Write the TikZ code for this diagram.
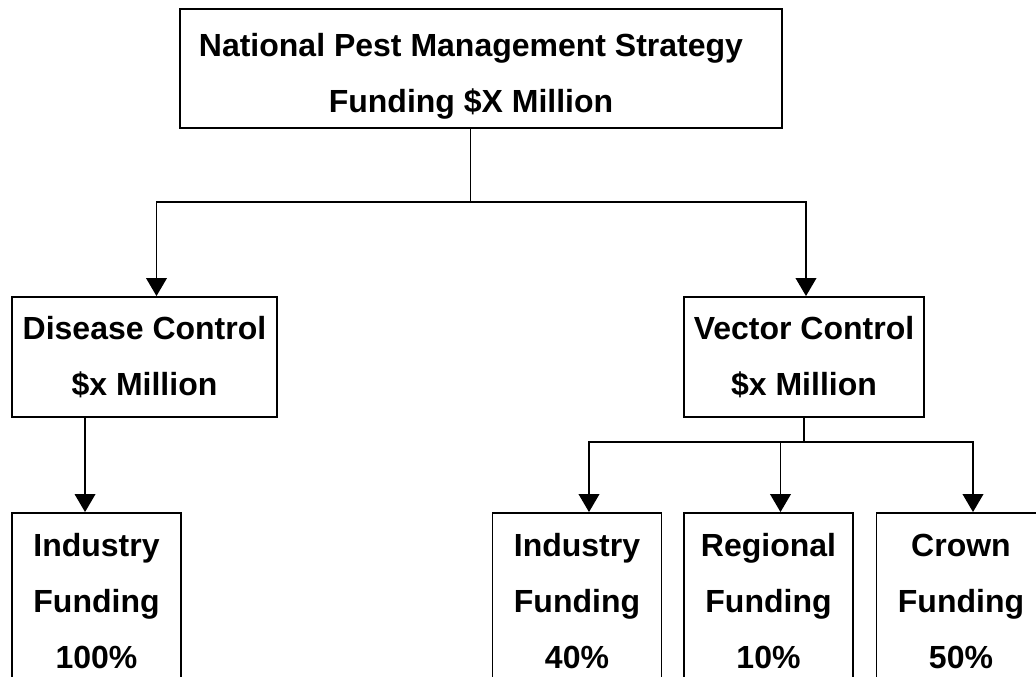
\documentclass[tikz,border=0pt]{standalone}
\usepackage{fontspec}
\setmainfont{Liberation Sans}
\usetikzlibrary{positioning,arrows.meta}

\begin{document}
\begin{tikzpicture}[x=0.75pt,y=-0.75pt,>={Triangle[length=13.5pt,width=15.5pt]},
  box/.style={draw, line width=1.4pt, align=center, inner sep=0pt,
    font=\fontsize{24pt}{42pt}\selectfont\bfseries},
  fundbox/.style={box, minimum width=126.75pt, minimum height=132pt},
  link/.style={line width=1.2pt}]
  % Page, the funding boxes run off its bottom edge
  \path[use as bounding box, clip] (0,0) rectangle (1036,677);
  \def\ofs{9pt}

  % --- Strategy ---
  \node[box, minimum width=451.5pt, minimum height=89.25pt] (nrms) at (481,68.5)
    {\rule{0pt}{29pt}National Pest Management Strategy\hspace*{15pt}\\
     Funding \$X Million\hspace*{15pt}};

  % --- Control programmes ---
  \node[box, minimum width=198.75pt, minimum height=90pt] (disease) at (144.5,357)
    {Disease Control\\\$x Million};
  \node[box, minimum width=180pt, minimum height=90pt] (vector) at (804,357)
    {Vector Control\\\$x Million};

  % --- Funding shares ---
  \node[fundbox] (indA) at (96.5,601) {Industry\\Funding\\100\%};
  \node[fundbox] (indB) at (577,601) {Industry\\Funding\\40\%};
  \node[fundbox] (regional) at (768.5,601) {Regional\\Funding\\10\%};
  \node[fundbox] (crown) at (961,601) {Crown\\Funding\\50\%};

  % Connectors
  \draw[link] ([xshift=-8pt]nrms.south) -- ++(0,73) coordinate (split);
  \draw[link,->] (split) -| ([xshift=\ofs]disease.north);
  \draw[link,->] (split) -| ([xshift=1.5pt]vector.north);
  \draw[link,->] ([xshift=-44.6pt]disease.south) -- ([xshift=-8.6pt]indA.north);
  \draw[link] (vector.south) -- ++(0,24) coordinate (fork);
  \foreach \n in {indB,regional,crown}
    \draw[link,->] (fork) -| ([xshift=\ofs]\n.north);
\end{tikzpicture}
\end{document}
